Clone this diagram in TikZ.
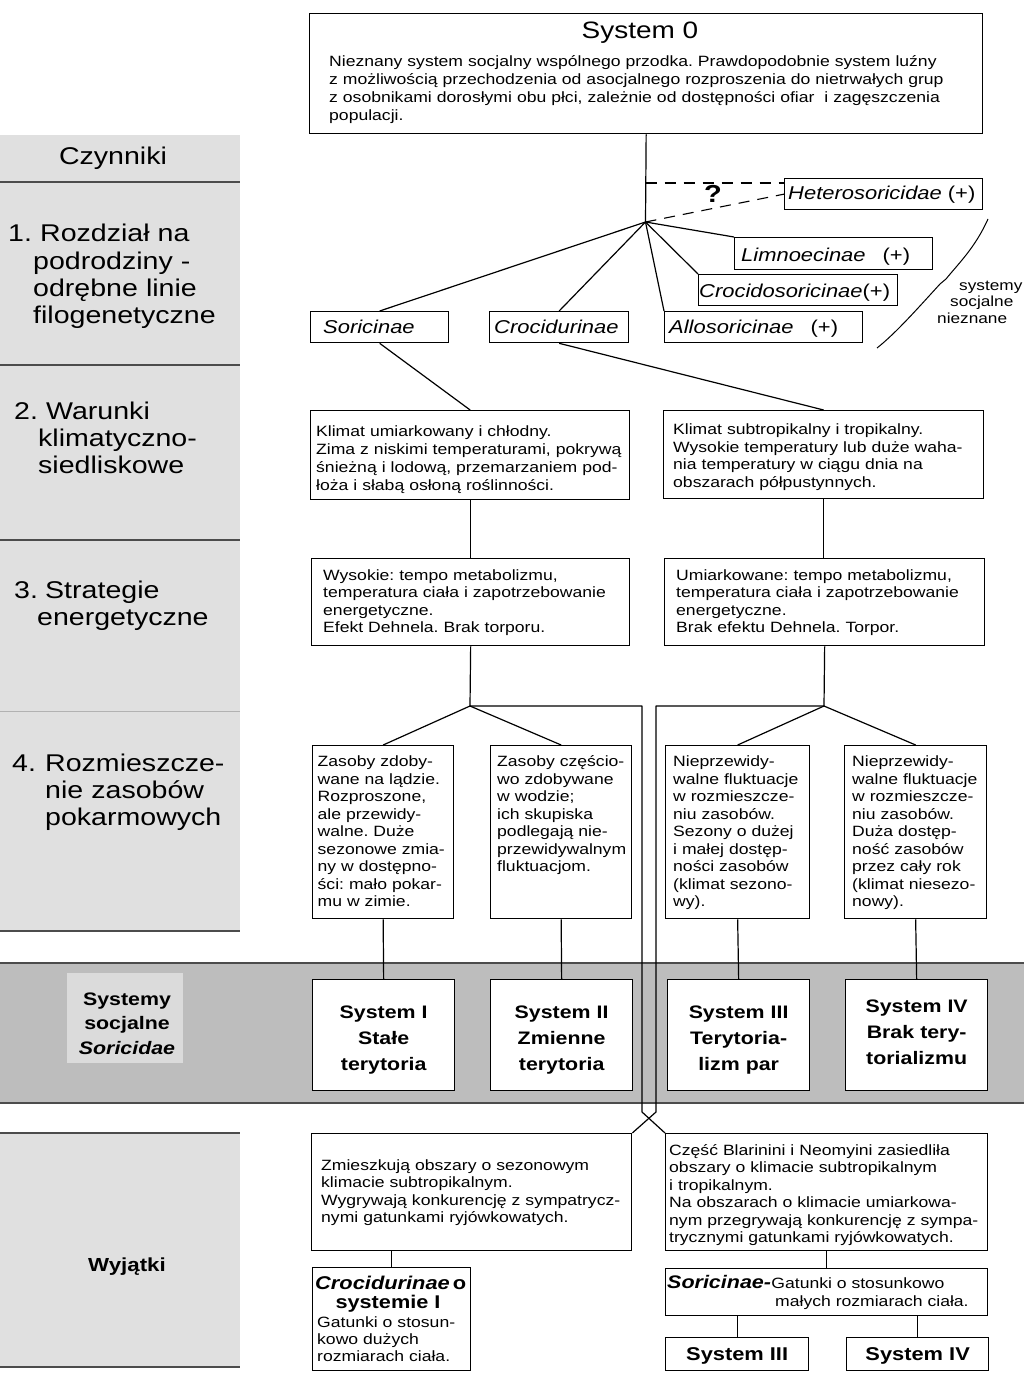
\documentclass[tikz,border=0pt]{standalone}
\usepackage{fontspec}
\setmainfont{Liberation Sans}[FakeStretch=1.18]
\usetikzlibrary{calc}
\lineskiplimit=-100pt
\frenchspacing
\definecolor{lgray}{gray}{0.88}
\definecolor{bandgray}{gray}{0.74}
\definecolor{patchgray}{gray}{0.86}
\definecolor{sepgray}{gray}{0.3}
\newcommand\fBody{\fontsize{14.9}{18}\selectfont\lineskiplimit=-100pt\frenchspacing}
\newcommand\fBodyB{\fontsize{14.9}{17.5}\selectfont\lineskiplimit=-100pt\frenchspacing}
\newcommand\fBodyC{\fontsize{14.9}{17}\selectfont\lineskiplimit=-100pt\frenchspacing}
\newcommand\fLeft{\fontsize{24.2}{27.4}\selectfont\lineskiplimit=-100pt}
\newcommand\fTax{\fontsize{18.6}{20}\selectfont}
\newcommand\fTitle{\fontsize{23.7}{26}\selectfont}
\newcommand\fSys{\fontsize{18.1}{26}\selectfont\bfseries\lineskiplimit=-100pt}
\newcommand\fSmall{\fontsize{14.6}{16.5}\selectfont\lineskiplimit=-100pt}
\begin{document}
\begin{tikzpicture}[x=1pt,y=-1pt,
  box/.style={draw=black,line width=1.3pt,fill=white,inner sep=0pt,anchor=north west},
  conn/.style={line width=1.2pt,line join=round},
  dline/.style={line width=1.1pt,dash pattern=on 11pt off 8pt},
  sepl/.style={line width=1.3pt,draw=sepgray},
  tx/.style={anchor=base west,inner sep=0pt,align=left,text width=#1,font=\fBody},
  tx/.default=340pt,
  ctx/.style={anchor=base,inner sep=0pt,align=center,text width=#1},
  ctx/.default=160pt]
\useasboundingbox (0,0) rectangle (1024,1391);

% ---------- background bands ----------
\fill[lgray] (0,135) rectangle (240,931);
\draw[sepl] (0,182) -- (240,182);
\draw[sepl] (0,365) -- (240,365);
\draw[sepl] (0,540) -- (240,540);
\draw[line width=0.6pt,draw=gray!60] (0,711) -- (240,711);
\draw[sepl] (0,931) -- (240,931);
\fill[bandgray] (0,963) rectangle (1024,1103);
\draw[sepl] (0,963) -- (1024,963);
\draw[sepl] (0,1103) -- (1024,1103);
\fill[patchgray] (67,973) rectangle (183,1063);
\fill[lgray] (0,1133) rectangle (240,1367);
\draw[sepl] (0,1133) -- (240,1133);
\draw[sepl] (0,1367) -- (240,1367);

% ---------- boxes ----------
\node[box,minimum width=673pt,minimum height=120pt] (sys0) at (309,13) {};
\node[box,minimum width=198pt,minimum height=31pt] (het) at (784,178) {};
\node[box,minimum width=198pt,minimum height=32pt] (lim) at (734,237) {};
\node[box,minimum width=199pt,minimum height=31pt] (crs) at (698,274) {};
\node[box,minimum width=138pt,minimum height=31pt] (sor) at (310,311) {};
\node[box,minimum width=139pt,minimum height=31pt] (cro) at (489,311) {};
\node[box,minimum width=198pt,minimum height=31pt] (allo) at (664,311) {};
\node[box,minimum width=319pt,minimum height=89pt] (climL) at (310,410) {};
\node[box,minimum width=320pt,minimum height=88pt] (climR) at (663,410) {};
\node[box,minimum width=318pt,minimum height=87pt] (enL) at (311,558) {};
\node[box,minimum width=320pt,minimum height=87pt] (enR) at (664,558) {};
\node[box,minimum width=141pt,minimum height=173pt] (r4a) at (312,745) {};
\node[box,minimum width=141pt,minimum height=173pt] (r4b) at (490,745) {};
\node[box,minimum width=144pt,minimum height=173pt] (r4c) at (665,745) {};
\node[box,minimum width=142pt,minimum height=173pt] (r4d) at (844,745) {};
\node[box,minimum width=142pt,minimum height=111pt] (s1) at (312,979) {};
\node[box,minimum width=142pt,minimum height=111pt] (s2) at (490,979) {};
\node[box,minimum width=142pt,minimum height=111pt] (s3) at (667,979) {};
\node[box,minimum width=142pt,minimum height=111pt] (s4) at (845,979) {};
\node[box,minimum width=320pt,minimum height=117pt] (exL) at (311,1133) {};
\node[box,minimum width=322pt,minimum height=117pt] (exR) at (665,1133) {};
\node[box,minimum width=158pt,minimum height=103pt] (crB) at (312,1267) {};
\node[box,minimum width=322pt,minimum height=47pt] (soB) at (665,1268) {};
\node[box,minimum width=143pt,minimum height=33pt] (s3b) at (665,1337) {};
\node[box,minimum width=142pt,minimum height=33pt] (s4b) at (846,1337) {};

% ---------- junction coordinates ----------
\coordinate (T1) at (645.5,183);
\coordinate (H1) at (784,183);
\coordinate (J) at (645.5,222);
\coordinate (JL) at (470,706);
\coordinate (JR) at (824,706);
\coordinate (VL1) at (642,706);
\coordinate (VL2) at (642,1112);
\coordinate (VR1) at (656,706);
\coordinate (VR2) at (656,1112);

% ---------- connectors ----------
\draw[conn] (sys0.south) -- (J);
\draw[dline] (T1) -- (H1);
\draw[dline] (J) -- (het.west);
\draw[conn] (J) -- (sor.north);
\draw[conn] (J) -- (cro.north);
\draw[conn] (J) -- (allo.north west);
\draw[conn] (J) -- (crs.north west);
\draw[conn] (J) -- (lim.north west);
\draw[conn] (sor.south) -- (climL.north);
\draw[conn] (cro.south) -- (climR.north);
\draw[conn] (climL.south) -- (climL.south |- enL.north);
\draw[conn] (climR.south) -- (climR.south |- enR.north);
\draw[conn] (enL.south) -- (JL);
\draw[conn] (enR.south) -- (JR);
\draw[conn] (JL) -- (r4a.north);
\draw[conn] (JL) -- (r4b.north);
\draw[conn] (JR) -- (r4c.north);
\draw[conn] (JR) -- (r4d.north);
\draw[conn] (JL) -- (VL1) -- (VL2) -- (exR.north west);
\draw[conn] (JR) -- (VR1) -- (VR2) -- (exL.north east);
\draw[conn] (r4a.south) -- (s1.north);
\draw[conn] (r4b.south) -- (s2.north);
\draw[conn] (r4c.south) -- (s3.north);
\draw[conn] (r4d.south) -- (s4.north);
\draw[conn] (crB.north) -- (crB.north |- exL.south);
\draw[conn] (exR.south) -- (soB.north);
\draw[conn] (s3b.north) -- (s3b.north |- soB.south);
\draw[conn] (s4b.north) -- (s4b.north |- soB.south);
% bracket of unknown systems
\draw[line width=1pt] (988,219) .. controls (975,248) and (958,264) .. (946,279) -- (940,284) .. controls (918,308) and (896,333) .. (877,348);

% ---------- texts ----------
\node[anchor=base,inner sep=0pt,font=\fTitle] (s0t) at (640,39) {System 0};
\node[tx=670pt] (s0b) at (329,66.5) {Nieznany system socjalny wspólnego przodka. Prawdopodobnie system luźny\\z możliwością przechodzenia od asocjalnego rozproszenia do nietrwałych grup\\z osobnikami dorosłymi obu płci, zależnie od dostępności ofiar\ \ i zagęszczenia\\populacji.};

\node[tx=200pt,font=\fTax] (hett) at (788,200) {\textit{Heterosoricidae}\hspace{6pt}(+)};
\node[tx=200pt,font=\fTax] (limt) at (741,261) {\textit{Limnoecinae}\hspace{17pt}(+)};
\node[tx=200pt,font=\fTax] (crst) at (699,297) {\textit{Crocidosoricinae}(+)};
\node[tx=140pt,font=\fTax] (sort) at (323,333) {\textit{Soricinae}};
\node[tx=140pt,font=\fTax] (crot) at (494,333) {\textit{Crocidurinae}};
\node[tx=200pt,font=\fTax] (allot) at (669,333) {\textit{Allosoricinae}\hspace{17pt}(+)};
\node[anchor=base,inner sep=0pt,font=\fontsize{24.6}{26}\selectfont\bfseries] (qm) at (713,203) {?};
\node[tx=100pt,font=\fSmall] (unk) at (937,290) {\hspace*{22pt}systemy\\\hspace*{13pt}socjalne\\nieznane};

% left column
\node[anchor=base,inner sep=0pt,font=\fLeft] (czy) at (113,165) {Czynniki};
\node[anchor=base west,inner sep=0pt,font=\fLeft] (n1) at (8,241.7) {1.};
\node[tx=210pt,font=\fLeft] (f1) at (33,241.7) {\hspace*{7pt}Rozdział na\\podrodziny -\\odrębne linie\\filogenetyczne};
\node[anchor=base west,inner sep=0pt,font=\fLeft] (n2) at (14,419) {2.};
\node[tx=210pt,font=\fLeft] (f2) at (38,419) {\hspace*{8pt}Warunki\\klimatyczno-\\siedliskowe};
\node[anchor=base west,inner sep=0pt,font=\fLeft] (n3) at (14,598) {3.};
\node[tx=210pt,font=\fLeft] (f3) at (37,598) {\hspace*{8pt}Strategie\\energetyczne};
\node[anchor=base west,inner sep=0pt,font=\fLeft] (n4) at (12,771) {4.};
\node[tx=210pt,font=\fLeft] (f4) at (45,771) {Rozmieszcze-\\nie zasobów\\pokarmowych};
\node[ctx=120pt,font=\fontsize{18.1}{24.5}\selectfont\bfseries] (sysS) at (127,1005) {Systemy\\socjalne\\\textit{Soricidae}};
\node[anchor=base,inner sep=0pt,font=\fontsize{18.9}{20}\selectfont\bfseries] (wyj) at (127,1271.5) {Wyjątki};

% climate and energy
\node[tx] (climLt) at (316,436) {Klimat umiarkowany i chłodny.\\Zima z niskimi temperaturami, pokrywą\\śnieżną i lodową, przemarzaniem pod-\\łoża i słabą osłoną roślinności.};
\node[tx,font=\fBodyB] (climRt) at (673,434.5) {Klimat subtropikalny i tropikalny.\\Wysokie temperatury lub duże waha-\\nia temperatury w ciągu dnia na\\obszarach półpustynnych.};
\node[tx,font=\fBodyB] (enLt) at (323,580) {Wysokie: tempo metabolizmu,\\temperatura ciała i zapotrzebowanie\\energetyczne.\\Efekt Dehnela. Brak torporu.};
\node[tx,font=\fBodyB] (enRt) at (676,580) {Umiarkowane: tempo metabolizmu,\\temperatura ciała i zapotrzebowanie\\energetyczne.\\Brak efektu Dehnela. Torpor.};

% resources
\node[tx=140pt,font=\fBodyB] (r4at) at (317.5,766.7) {Zasoby zdoby-\\wane na lądzie.\\Rozproszone,\\ale przewidy-\\walne. Duże\\sezonowe zmia-\\ny w dostępno-\\ści: mało pokar-\\mu w zimie.};
\node[tx=140pt,font=\fBodyB] (r4bt) at (497,766.7) {Zasoby częścio-\\wo zdobywane\\w wodzie;\\ich skupiska\\podlegają nie-\\przewidywalnym\\fluktuacjom.};
\node[tx=140pt,font=\fBodyB] (r4ct) at (673,766.7) {Nieprzewidy-\\walne fluktuacje\\w rozmieszcze-\\niu zasobów.\\Sezony o dużej\\i małej dostęp-\\ności zasobów\\(klimat sezono-\\wy).};
\node[tx=140pt,font=\fBodyB] (r4dt) at (852,766.7) {Nieprzewidy-\\walne fluktuacje\\w rozmieszcze-\\niu zasobów.\\Duża dostęp-\\ność zasobów\\przez cały rok\\(klimat niesezo-\\nowy).};

% social systems
\node[ctx=140pt,font=\fSys] (s1t) at (s1.north |- 0,1018) {System I\\Stałe\\terytoria};
\node[ctx=140pt,font=\fSys] (s2t) at (s2.north |- 0,1018) {System II\\Zmienne\\terytoria};
\node[ctx=140pt,font=\fSys] (s3t) at (s3.north |- 0,1018) {System III\\Terytoria-\\lizm par};
\node[ctx=140pt,font=\fSys] (s4t) at (s4.north |- 0,1012) {System IV\\Brak tery-\\torializmu};

% exceptions
\node[tx,font=\fBodyB] (exLt) at (321,1170) {Zmieszkują obszary o sezonowym\\klimacie subtropikalnym.\\Wygrywają konkurencję z sympatrycz-\\nymi gatunkami ryjówkowatych.};
\node[tx,font=\fBodyB] (exRt) at (669,1155) {Część Blarinini i Neomyini zasiedliła\\obszary o klimacie subtropikalnym\\i tropikalnym.\\Na obszarach o klimacie umiarkowa-\\nym przegrywają konkurencję z sympa-\\trycznymi gatunkami ryjówkowatych.};
\node[tx=160pt,font=\fontsize{18.5}{20}\selectfont\bfseries] (crT1) at (315,1289) {\textit{Crocidurinae}\hspace{3pt}o};
\node[anchor=base,inner sep=0pt,font=\fontsize{18.4}{20}\selectfont\bfseries] (crT2) at (388,1308) {systemie I};
\node[tx=160pt,font=\fBodyC] (crT3) at (317,1327) {Gatunki o stosun-\\kowo dużych\\rozmiarach ciała.};
\node[anchor=base west,inner sep=0pt,font=\fontsize{18.2}{20}\selectfont\bfseries\itshape] (soT1) at (667,1288.5) {Soricinae-};
\node[anchor=base west,inner sep=0pt,font=\fBody] (soT2) at (soT1.base east) {Gatunki o stosunkowo};
\node[anchor=base west,inner sep=0pt,font=\fBody] (soT3) at (775,1306) {małych rozmiarach ciała.};
\node[anchor=base,inner sep=0pt,font=\fontsize{18.5}{20}\selectfont\bfseries] (s3bt) at (s3b.north |- 0,1360) {System III};
\node[anchor=base,inner sep=0pt,font=\fontsize{18.5}{20}\selectfont\bfseries] (s4bt) at (s4b.north |- 0,1360) {System IV};
\end{tikzpicture}
\end{document}
